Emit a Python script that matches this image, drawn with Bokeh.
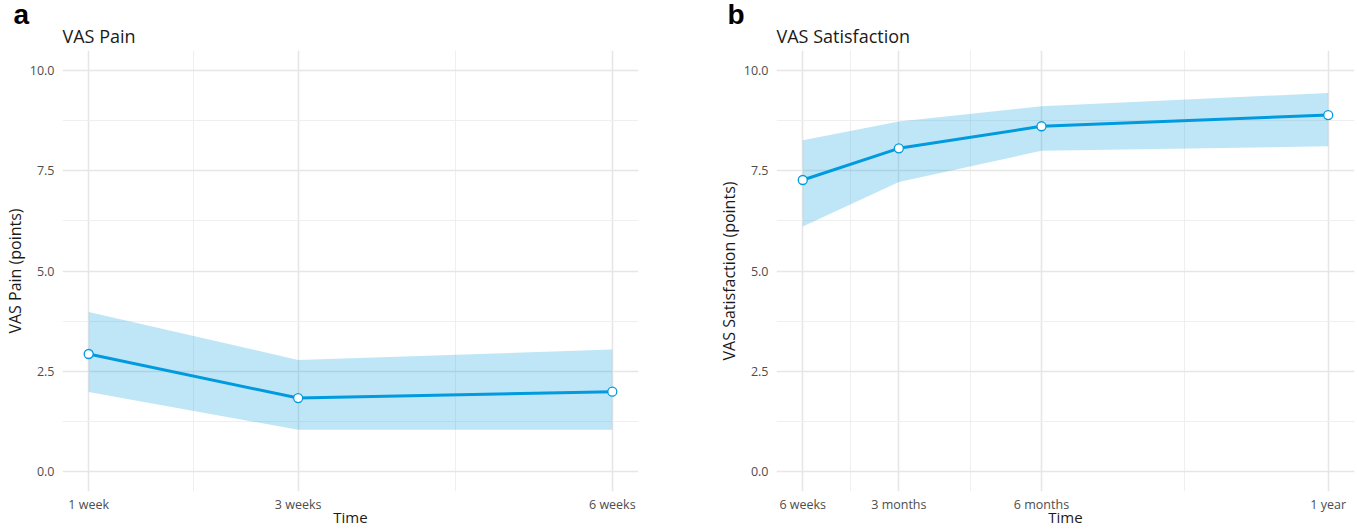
from bokeh.plotting import figure
from bokeh.layouts import row
from bokeh.models import FixedTicker, Range1d, NumeralTickFormatter, Title
from bokeh.embed import file_html
from bokeh.resources import INLINE

# ---- data ----
pain_time = [1, 3, 6]                      # weeks
pain_labels = ["1 week", "3 weeks", "6 weeks"]
pain_mean = [2.93, 1.83, 1.99]
pain_lower = [1.98, 1.04, 1.04]
pain_upper = [3.98, 2.78, 3.04]

sat_time = [1.5, 3.42, 6.27, 12.0]          # axis position (months-like units)
sat_labels = ["6 weeks", "3 months", "6 months", "1 year"]
sat_mean = [7.27, 8.06, 8.61, 8.89]
sat_lower = [6.11, 7.22, 8.00, 8.11]
sat_upper = [8.26, 8.73, 9.11, 9.44]

y_ticks = [0, 2.5, 5, 7.5, 10]
y_minor = [1.25, 3.75, 6.25, 8.75]
y_limits = [0, 10]

BLUE = "#009ADE"
FONT = "Open Sans"
H = 529
TOP = 50
BOTTOM = 38


def make_panel(letter, title, ylabel, times, labels, mean, lower, upper,
               width, mbl, mbr):
    span = times[-1] - times[0]
    yspan = y_limits[1] - y_limits[0]
    p = figure(width=width, height=H, output_backend="svg", toolbar_location=None,
               title=None,
               x_range=Range1d(times[0] - 0.05 * span, times[-1] + 0.05 * span),
               y_range=Range1d(y_limits[0] - 0.05 * yspan, y_limits[1] + 0.05 * yspan),
               min_border_left=mbl, min_border_right=mbr,
               min_border_top=TOP, min_border_bottom=BOTTOM)
    p.outline_line_color = None
    p.background_fill_color = "white"
    p.border_fill_color = "white"

    # titles: main title next to the frame, panel letter outermost
    p.add_layout(Title(text=title, align="left", text_font=FONT, text_font_size="18px",
                       text_font_style="normal", text_color="#1a1a1a", standoff=5), "above")
    p.add_layout(Title(text=letter, align="left", offset=-49, vertical_align="top",
                       standoff=-24, text_font="Liberation Sans", text_font_style="bold",
                       text_font_size="28px", text_color="black"), "above")

    # ticks
    minors = [(a + b) / 2 for a, b in zip(times[:-1], times[1:])]
    p.xaxis.ticker = FixedTicker(ticks=times, minor_ticks=minors)
    p.xaxis.major_label_overrides = {float(t): l for t, l in zip(times, labels)}
    p.yaxis.ticker = FixedTicker(ticks=y_ticks, minor_ticks=y_minor)
    p.yaxis.formatter = NumeralTickFormatter(format="0.0")

    for ax in (p.xaxis[0], p.yaxis[0]):
        ax.axis_line_color = None
        ax.major_tick_line_color = None
        ax.minor_tick_line_color = None
        ax.major_tick_out = 0
        ax.major_tick_in = 0
        ax.minor_tick_out = 0
        ax.minor_tick_in = 0
        ax.major_label_text_color = "#4d4d4d"
        ax.major_label_text_font = FONT
        ax.major_label_text_font_size = "12.5px"
        ax.axis_label_text_font = FONT
        ax.axis_label_text_font_style = "normal"
        ax.axis_label_text_color = "#1a1a1a"
    p.xaxis.axis_label = "Time"
    p.xaxis.axis_label_text_font_size = "15px"
    p.yaxis.axis_label = ylabel
    p.yaxis.axis_label_text_font_size = "16px"
    p.xaxis.major_label_standoff = 4
    p.xaxis.axis_label_standoff = -9
    p.yaxis.major_label_standoff = 8
    p.yaxis.axis_label_standoff = 1

    for g in (p.xgrid[0], p.ygrid[0]):
        g.grid_line_color = "#e6e6e6"
        g.grid_line_width = 1.6
        g.minor_grid_line_color = "#efefef"
        g.minor_grid_line_width = 1

    p.varea(x=times, y1=lower, y2=upper, fill_color=BLUE, fill_alpha=0.25)
    p.line(x=times, y=mean, line_color=BLUE, line_width=3)
    p.scatter(x=times, y=mean, size=9, fill_color="white", line_color=BLUE, line_width=1.3)
    return p


p1 = make_panel("a", "VAS Pain", "VAS Pain (points)", pain_time, pain_labels,
                pain_mean, pain_lower, pain_upper, width=700, mbl=62, mbr=62)
p2 = make_panel("b", "VAS Satisfaction", "VAS Satisfaction (points)", sat_time, sat_labels,
                sat_mean, sat_lower, sat_upper, width=657, mbl=76, mbr=3)

layout = row(p1, p2)
open("out.html", "w").write(file_html(layout, INLINE))
